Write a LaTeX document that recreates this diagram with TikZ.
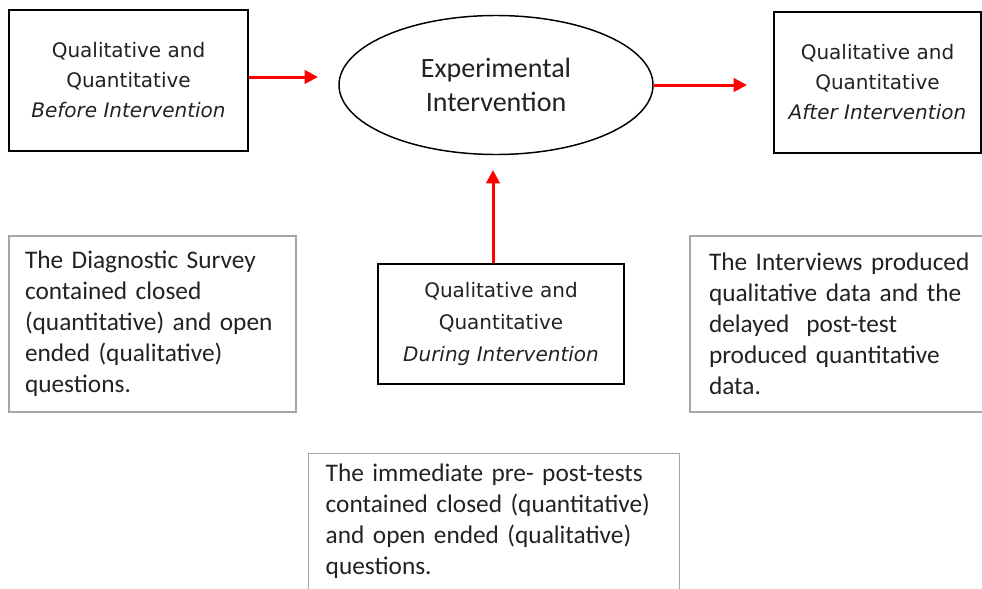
\documentclass[tikz,border=0pt]{standalone}
\usepackage{fontspec}
\setmainfont{Carlito}
\newfontfamily\boxfont{DejaVu Sans}
\usetikzlibrary{shapes.geometric,arrows.meta}

\definecolor{notegray}{HTML}{A6A6A6}
\definecolor{inkgray}{HTML}{222222}

\tikzset{
  stagebox/.style={draw=black, line width=1.1pt, text=inkgray, align=center,
    font=\boxfont\fontsize{15}{22.5}\selectfont, inner sep=0pt},
  hub/.style={ellipse, draw=black, line width=1.1pt, text=inkgray, align=center,
    font=\fontsize{21}{25.5}\selectfont, inner sep=0pt},
  notebox/.style={draw=notegray, line width=1.1pt, text=inkgray, align=left,
    font=\fontsize{19}{23.25}\selectfont},
  flow/.style={red, line width=2.25pt}
}

\begin{document}
\begin{tikzpicture}[x=0.75pt, y=-0.75pt, >={Triangle[length=10pt,width=10pt]}]
  \useasboundingbox (0,0) rectangle (982,589);
  \clip (0,0) rectangle (982,589);

  \node[stagebox, minimum width=179.25pt, minimum height=105.75pt] (before) at (128.5,80.5)
    {Qualitative and\\Quantitative\\\textit{Before Intervention}};
  \node[hub, minimum width=235.5pt, minimum height=104.25pt] (exper) at (496,85)
    {Experimental\\Intervention};
  \node[stagebox, minimum width=155.25pt, minimum height=105.75pt] (after) at (877.5,82.5)
    {Qualitative and\\Quantitative\\\textit{After Intervention}};
  \node[stagebox, minimum width=184.5pt, minimum height=90pt,
    font=\boxfont\fontsize{15}{24}\selectfont] (during) at (501,324)
    {Qualitative and\\Quantitative\\\textit{During Intervention}};

  \node[notebox, minimum width=215.25pt, minimum height=132pt, inner xsep=12pt,
    text width=191.25pt] (survey) at (152.5,324)
    {The Diagnostic Survey\\contained closed\\(quantitative) and open\\ended (qualitative)\\questions.};
  \node[notebox, minimum width=232.5pt, minimum height=132pt, inner xsep=14.25pt,
    text width=204pt] (interviews) at (845,324)
    {The Interviews produced\\qualitative data and the\\delayed\ \ post-test\\produced quantitative\\data.};
  \node[notebox, anchor=north west, minimum width=278.25pt, inner xsep=12.75pt,
    inner ysep=7.5pt, text width=252.75pt, text depth=110pt] (tests) at (308,453)
    {The immediate pre- post-tests\\contained closed (quantitative)\\and open ended (qualitative)\\questions.};

  \coordinate (tipA) at (318,77);
  \coordinate (tipB) at (747,85);
  \coordinate (tipC) at (493,170);
  \draw[flow, ->] (before.east |- tipA) -- (tipA);
  \draw[flow, ->] (exper.east) -- (tipB);
  \draw[flow, ->] (during.north -| tipC) -- (tipC);
\end{tikzpicture}
\end{document}
